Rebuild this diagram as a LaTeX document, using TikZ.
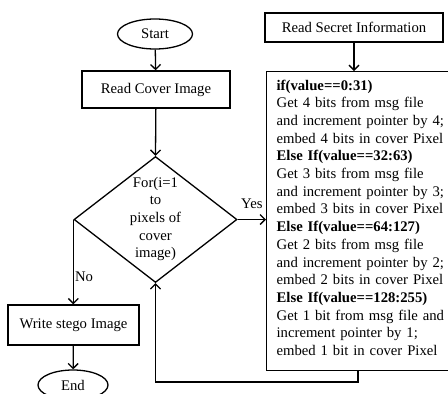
\documentclass[tikz,border=0pt]{standalone}
\usepackage{fontspec}
\setmainfont{Liberation Serif}
\usetikzlibrary{shapes.geometric,arrows.meta}
\begin{document}
\begin{tikzpicture}[x=1pt,y=-1pt,line width=1.3pt,
    font=\fontsize{14.7}{17.7}\selectfont,
    every node/.style={inner sep=0pt},
    terminal/.style={draw,ellipse,minimum width=75pt,minimum height=30pt},
    process/.style={draw,rectangle,align=center},
    flow/.style={-{Straight Barb[length=5pt,width=10pt]}}]

\def\LOOPW{163pt}
\def\LOOPH{126pt}
	\useasboundingbox (0,0) rectangle (448,394);
	\node[terminal] (start) at (155,34) {Start};
	\node[process,minimum width=148pt,minimum height=37pt] (readcover) at (156,89.5) {Read Cover Image};
	\node[draw,diamond,minimum width=\LOOPW,minimum height=\LOOPH] (loop) at (155.5,219.5) {};
	\node[align=center] (looptext) at (155.5,219) {For(i=1\\to\\pixels of\\cover\\image)};
	\node[process,minimum width=131pt,minimum height=40pt] (writestego) at (73.5,325) {Write stego Image};
	\node[terminal,minimum width=70pt] (end) at (73,385) {End};
	\node[process,minimum width=178pt,minimum height=29pt] (readsecret) at (354,27.5) {Read Secret Information};
	\node[draw,minimum width=190pt,minimum height=299pt,anchor=north west] (embed) at (266,71) {};
	\node[align=left,anchor=north west,text width=176pt] (rules) at (276,79) {%
		\textbf{if(value==0:31)}\\
		Get 4 bits from msg file\\
		and increment pointer by 4;\\
		embed 4 bits in cover Pixel\\
		\textbf{Else If(value==32:63)}\\
		Get 3 bits from msg file\\
		and increment pointer by 3;\\
		embed 3 bits in cover Pixel\\
		\textbf{Else If(value==64:127)}\\
		Get 2 bits from msg file\\
		and increment pointer by 2;\\
		embed 2 bits in cover Pixel\\
		\textbf{Else If(value==128:255)}\\
		Get 1 bit from msg file and\\
		increment pointer by 1;\\
		embed 1 bit in cover Pixel};
	\coordinate (loopturn) at (358,382);

	\draw[flow] (start) -- (readcover);
	\draw[flow] (readcover) -- (loop.north);
	\draw[flow] (loop.east) -- node[midway,above=10pt] (yes) {Yes} (loop.east -| embed.west);
	\draw[flow] (loop.west) -- node[pos=0.67,right=1pt] (no) {No} (loop.west |- writestego.north);
	\draw[flow] (writestego) -- (end);
	\draw[flow] (readsecret) -- (readsecret |- embed.north);
	\draw[flow] (embed.south -| loopturn) -- (loopturn) -| (loop.south);

\end{tikzpicture}
\end{document}
